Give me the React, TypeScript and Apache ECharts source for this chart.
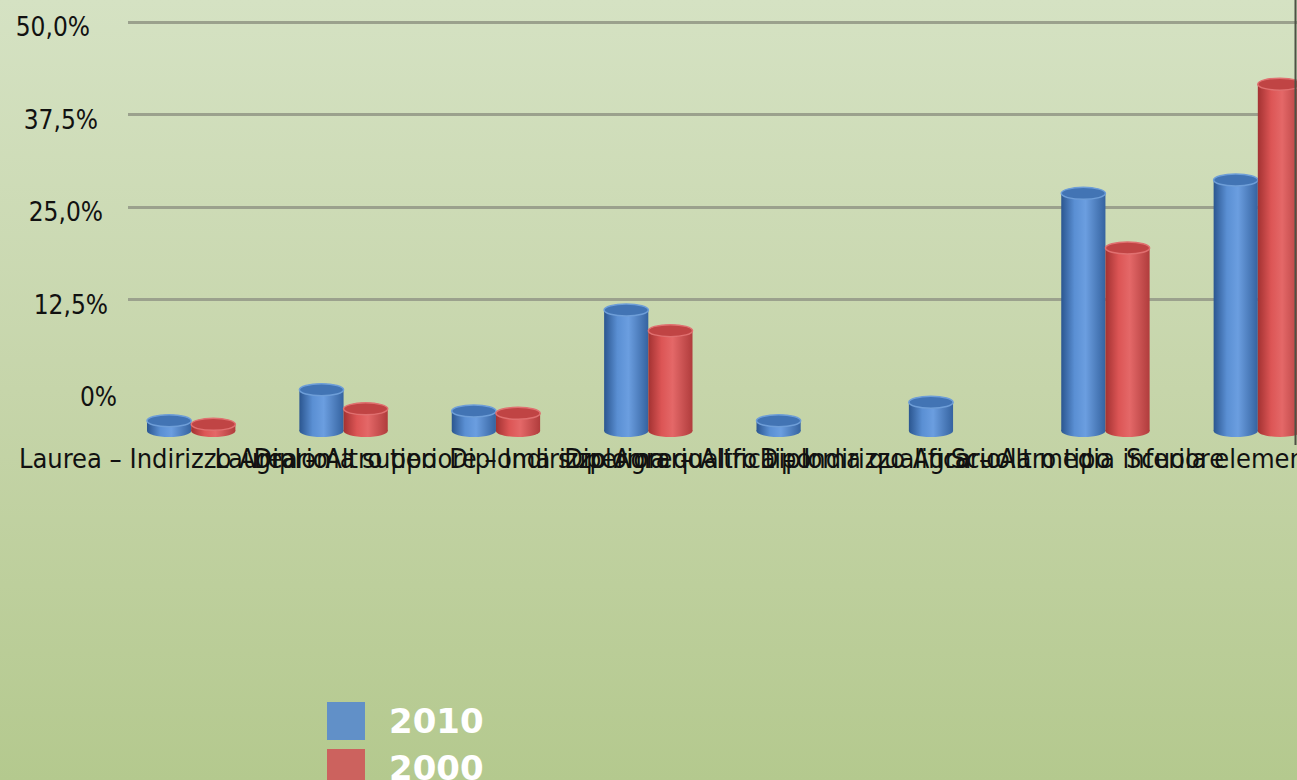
import React, { useEffect, useRef } from "react";
import * as echarts from "echarts";

const categories = [
  "Laurea – Indirizzo Agrario",
  "Laurea – Altro tipo",
  "Diploma superiore – Indirizzo Agrario",
  "Diploma superiore – Altro tipo",
  "Diploma qualifica – Indirizzo Agrario",
  "Diploma qualifica – Altro tipo",
  "Scuola media inferiore",
  "Scuola elementare",
];
const values2010 = [1.4, 5.6, 2.7, 16.4, 1.4, 3.9, 32.2, 34.0];
const values2000: (number | null)[] = [0.9, 3.0, 2.4, 13.6, null, null, 24.8, 47.0];
const yTicks = [0, 12.5, 25, 37.5, 50];
const yTickLabels = ["0%", "12,5%", "25,0%", "37,5%", "50,0%"];

const FONT = "DejaVu Sans Condensed";

function cylinder(offsetSign: number, colors: { dark: string; mid: string; light: string; right: string; top: string; rim: string }) {
  return (params: any, api: any) => {
    const v = api.value(1);
    if (v === null || v === undefined || isNaN(v)) return;
    const idx = api.value(0);
    const base = api.coord([idx, 0]);
    const top = api.coord([idx, v]);
    const band = api.size([1, 0])[0];
    const w = band * 0.29;
    const cx = base[0] + offsetSign * (w / 2);
    const x0 = cx - w / 2;
    const ry = 6;
    const grad = new echarts.graphic.LinearGradient(0, 0, 1, 0, [
      { offset: 0, color: colors.dark },
      { offset: 0.3, color: colors.mid },
      { offset: 0.55, color: colors.light },
      { offset: 1, color: colors.right },
    ]);
    return {
      type: "group",
      children: [
        { type: "ellipse", shape: { cx, cy: base[1], rx: w / 2, ry }, style: { fill: grad } },
        { type: "rect", shape: { x: x0, y: top[1], width: w, height: base[1] - top[1] }, style: { fill: grad } },
        { type: "ellipse", shape: { cx, cy: top[1], rx: w / 2, ry }, style: { fill: colors.top, stroke: colors.rim, lineWidth: 1.5 } },
      ],
    };
  };
}

export default function App() {
  const ref = useRef<HTMLDivElement>(null);
  useEffect(() => {
    if (!ref.current) return;
    const chart = echarts.init(ref.current, null, { renderer: "svg" });
    const padRight = [3, 12, 17, 22, 30];
    const rich: any = {};
    yTicks.forEach((t, i) => {
      rich["r" + i] = {
        fontFamily: FONT,
        fontSize: 26,
        color: "#111",
        padding: [10, padRight[i], 0, 0],
      };
    });
    const legendText = {
      fontFamily: "DejaVu Sans",
      fontWeight: "bold",
      fontSize: 34,
      color: "#ffffff",
      padding: [0, 0, 0, 19],
    };
    const option: any = {
      animation: false,
      backgroundColor: "transparent",
      legend: [
        {
          orient: "vertical",
          left: 322,
          top: 697,
          itemWidth: 38,
          itemHeight: 38,
          icon: "rect",
          data: ["2010"],
          textStyle: legendText,
        },
        {
          orient: "vertical",
          left: 322,
          top: 744,
          itemWidth: 38,
          itemHeight: 38,
          icon: "rect",
          data: ["2000"],
          textStyle: legendText,
        },
      ],
      grid: [
        { left: 128, top: 22, height: 370, width: 1180, outerBoundsMode: "none", containLabel: false },
        { left: 115, top: 62, height: 369, width: 1219, outerBoundsMode: "none", containLabel: false },
      ],
      xAxis: [
        { type: "value", gridIndex: 0, show: false, min: 0, max: 1 },
        {
          type: "category",
          gridIndex: 1,
          data: categories,
          axisLine: { show: false },
          axisTick: { show: false },
          axisLabel: {
            interval: 0,
            hideOverlap: false,
            margin: 14,
            fontFamily: FONT,
            fontSize: 27,
            color: "#111",
            padding: [0, 36, 0, 0],
          },
        },
      ],
      yAxis: [
        {
          type: "value",
          gridIndex: 0,
          min: 0,
          max: 50,
          interval: 12.5,
          axisLine: { show: false },
          axisTick: { show: false },
          splitLine: {
            show: true,
            showMinLine: false,
            lineStyle: {
              color: "#9ba18d",
              width: 3,
            },
          },
          axisLabel: {
            margin: 8,
            formatter: (val: number) => {
              const i = yTicks.indexOf(val);
              return i >= 0 ? `{r${i}|${yTickLabels[i]}}` : "";
            },
            rich,
          },
        },
        { type: "value", gridIndex: 1, min: 0, max: 50, show: false },
      ],
      series: [
        {
          name: "2010",
          type: "custom",
          xAxisIndex: 1,
          yAxisIndex: 1,
          itemStyle: { color: "#6190c8" },
          encode: { x: 0, y: 1 },
          renderItem: cylinder(-1, {
            dark: "#2b5690",
            mid: "#5a8fd3",
            light: "#6b9ee0",
            right: "#3563a0",
            top: "#4274b4",
            rim: "#6e9ed8",
          }),
          data: values2010.map((v, i) => [i, v]),
        },
        {
          name: "2000",
          type: "custom",
          xAxisIndex: 1,
          yAxisIndex: 1,
          itemStyle: { color: "#cc625e" },
          encode: { x: 0, y: 1 },
          renderItem: cylinder(1, {
            dark: "#a33232",
            mid: "#dc5555",
            light: "#e46868",
            right: "#b03c3c",
            top: "#c04444",
            rim: "#e07070",
          }),
          data: values2000.map((v, i) => [i, v]),
        },
      ],
      graphic: [
        {
          type: "line",
          shape: { x1: 1295.5, y1: 0, x2: 1295.5, y2: 445 },
          style: { stroke: "#4d5245", lineWidth: 2 },
          z: 100,
        },
      ],
    };
    chart.setOption(option);
    return () => chart.dispose();
  }, []);
  return (
    <div
      ref={ref}
      style={{
        position: "fixed",
        left: 0,
        top: 0,
        width: 1297,
        height: 780,
        background: "linear-gradient(to bottom, #d5e2c3 0%, #c6d5aa 50%, #b4c98e 100%)",
      }}
    />
  );
}
